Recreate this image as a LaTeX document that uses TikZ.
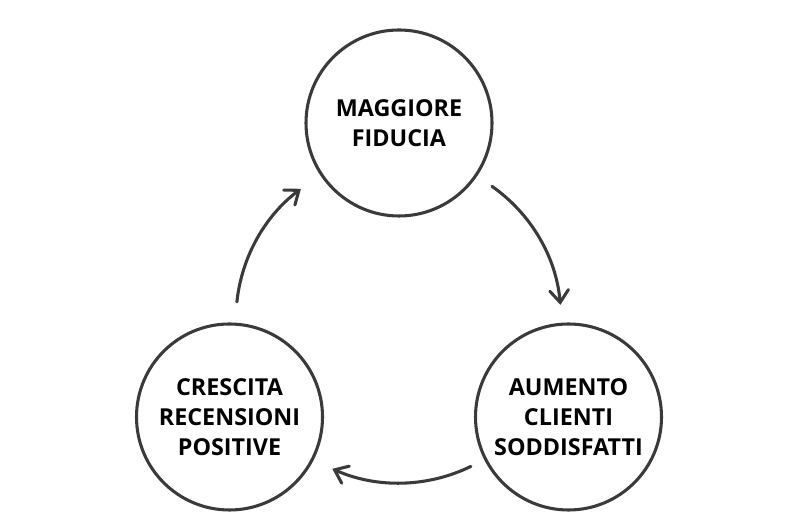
\documentclass[tikz,border=0pt]{standalone}
\usepackage{fontspec}
\setmainfont{Open Sans}
\usetikzlibrary{arrows.meta}
\definecolor{ink}{HTML}{3A3A3A}
\begin{document}
\begin{tikzpicture}[
  x=0.75pt, y=0.75pt,
  line width=2.3pt,
  bubble/.style={circle, draw=ink, minimum size=139.5pt, inner sep=0pt,
    align=center, font=\bfseries\fontsize{17.5}{22.5}\selectfont},
  cyc/.style={draw=ink, line cap=round,
    -{Straight Barb[length=9pt, width=14pt, line cap=round]}}]
  \useasboundingbox (0,0) rectangle (800,530);
  \coordinate (hub) at (399,211);
  \node[bubble] (fid) at (399,407) {MAGGIORE\\FIDUCIA};
  \node[bubble] (cli) at (568.5,113) {AUMENTO\\CLIENTI\\SODDISFATTI};
  \node[bubble] (rec) at (229.5,113) {CRESCITA\\RECENSIONI\\POSITIVE};
  % cycle arrows
  \draw[cyc] ([shift={(55:162)}]hub) arc[start angle=55, end angle=5, radius=162];
  \draw[cyc] ([shift={(-64:164)}]hub) arc[start angle=-64, end angle=-114, radius=164];
  \draw[cyc] ([shift={(174:163)}]hub) arc[start angle=174, end angle=127, radius=163];
\end{tikzpicture}
\end{document}
